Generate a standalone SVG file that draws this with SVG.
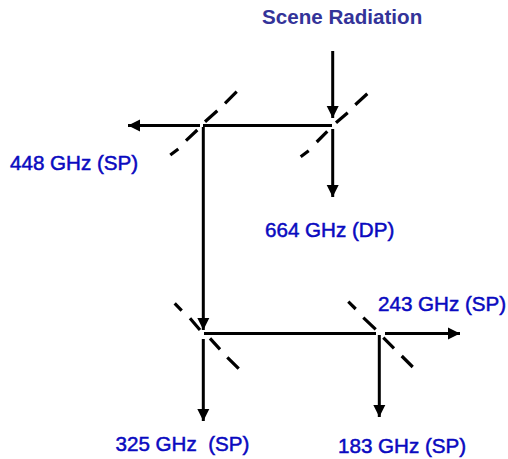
<svg xmlns="http://www.w3.org/2000/svg" width="508" height="459" viewBox="0 0 508 459">
<style>
.lbl{font-family:"Liberation Sans",Arial,sans-serif;font-size:20.6px;fill:#0a0ac0;stroke:#0a0ac0;stroke-width:.5;white-space:pre}
.title{font-weight:bold;stroke:none;fill:#333399}
.beam{fill:none;stroke:#000;stroke-width:3}
.mirror{fill:none;stroke:#000;stroke-width:3.2}
</style>
<defs>
<marker id="ah" markerUnits="userSpaceOnUse" markerWidth="13" markerHeight="13" refX="12" refY="6.5" orient="auto"><path d="M0 0.5L12 6.5L0 12.5Z" fill="#000"/></marker>
</defs>
<rect width="508" height="459" fill="#fff"/>
<g id="connectors">
<path class="beam" d="M332.7 51V118" marker-end="url(#ah)"/>
<path class="beam" d="M332 125.5H203"/>
<path class="beam" d="M200 125.5H128" marker-end="url(#ah)"/>
<path class="beam" d="M332.7 129V197" marker-end="url(#ah)"/>
<path class="beam" d="M203.3 127V330" marker-end="url(#ah)"/>
<path class="beam" d="M204 333.500H376"/>
<path class="beam" d="M385 333.500H460" marker-end="url(#ah)"/>
<path class="beam" d="M203.300 339V421" marker-end="url(#ah)"/>
<path class="beam" d="M379.300 335V417" marker-end="url(#ah)"/>
</g>
<g id="mirror-448"><path class="mirror" d="M170.300 155L178.300 149M186 140.700L197.300 130M205 121.700L217.300 110.700M225 103.300L236.700 91.700"/></g>
<g id="mirror-664"><path class="mirror" d="M300.700 156.700L308.700 150.700M316.700 142L327.300 131.300M336 122.700L347.700 112.700M355.300 104.700L367.300 93.700"/></g>
<g id="mirror-325"><path class="mirror" d="M174.700 303.300L181.700 310.700M190 318.300L200 330M210 338.300L220 349.300M227.300 357.300L238.700 368.700"/></g>
<g id="mirror-243"><path class="mirror" d="M348.300 301.700L355.700 309M363.300 317.700L375.700 329.300M383.300 337.700L394 348.300M401.700 356L412.700 367"/></g>
<g id="label-scene"><text class="lbl title" x="262" y="23.500">Scene Radiation</text></g>
<g id="label-448"><text class="lbl" x="10" y="170">448 GHz (SP)</text></g>
<g id="label-664"><text class="lbl" x="265" y="236.500">664 GHz (DP)</text></g>
<g id="label-243"><text class="lbl" x="378" y="310.500">243 GHz (SP)</text></g>
<g id="label-325"><text class="lbl" x="115.500" y="450.500" xml:space="preserve">325 GHz  (SP)</text></g>
<g id="label-183"><text class="lbl" x="338" y="452.500">183 GHz (SP)</text></g>
</svg>
